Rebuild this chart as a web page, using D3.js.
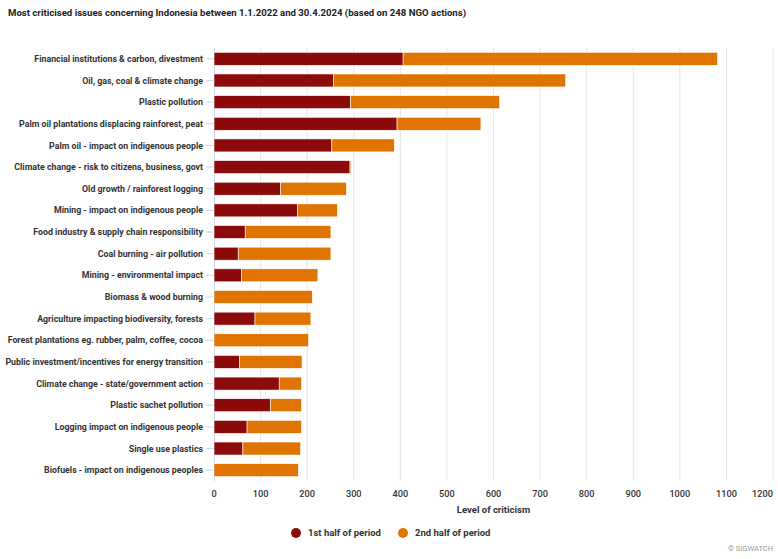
<!DOCTYPE html>
<html><head><meta charset="utf-8">
<script src="https://cdn.jsdelivr.net/npm/d3@7"></script>
<style>
body{margin:0;background:#fff;}
text{font-family:Roboto, "Noto Sans", sans-serif;}
</style></head>
<body><svg id="c" width="778" height="559"></svg>
<script>
const categories = [
 "Financial institutions & carbon, divestment",
 "Oil, gas, coal & climate change",
 "Plastic pollution",
 "Palm oil plantations displacing rainforest, peat",
 "Palm oil - impact on indigenous people",
 "Climate change - risk to citizens, business, govt",
 "Old growth / rainforest logging",
 "Mining - impact on indigenous people",
 "Food industry & supply chain responsibility",
 "Coal burning - air pollution",
 "Mining - environmental impact",
 "Biomass & wood burning",
 "Agriculture impacting biodiversity, forests",
 "Forest plantations eg. rubber, palm, coffee, cocoa",
 "Public investment/incentives for energy transition",
 "Climate change - state/government action",
 "Plastic sachet pollution",
 "Logging impact on indigenous people",
 "Single use plastics",
 "Biofuels - impact on indigenous peoples"
];
const firstHalf  = [406,257,293,393,253,292,143,179,67,52,59,0,88,0,55,140,121,71,62,0];
const secondHalf = [675,498,320,180,134,2,141,86,184,199,164,211,120,203,134,48,67,117,124,181];
const xTicks = [0,100,200,300,400,500,600,700,800,900,1000,1100,1200];
const seriesNames = ["1st half of period","2nd half of period"];
const colors = ["#8b0a0a","#e07400"];

(function(){
const svg = d3.select("#c");
const pL = 214, pR = 773, pT = 48, pB = 481;
const x = d3.scaleLinear().domain([0,1200]).range([pL,pR]);
const y = d3.scaleBand().domain(categories).range([pT,pB]).paddingInner(0.4).paddingOuter(0.2);

svg.append("text").attr("x",8).attr("y",16).attr("font-size",9.6).attr("font-weight","bold").attr("fill","#222")
  .text("Most criticised issues concerning Indonesia between 1.1.2022 and 30.4.2024 (based on 248 NGO actions)");

// grid
svg.append("g").selectAll("line").data(xTicks.slice(1)).join("line")
  .attr("x1",d=>x(d)).attr("x2",d=>x(d)).attr("y1",pT).attr("y2",pB)
  .attr("stroke","#e6e6e6").attr("stroke-width",1);

// y axis line & ticks
svg.append("line").attr("x1",pL+0.5).attr("x2",pL+0.5).attr("y1",pT).attr("y2",pB).attr("stroke","#ccd6eb");
svg.append("g").selectAll("line").data(categories).join("line")
  .attr("x1",pL-8).attr("x2",pL).attr("y1",d=>y(d)+y.bandwidth()/2).attr("y2",d=>y(d)+y.bandwidth()/2)
  .attr("stroke","#ccd6eb");
svg.append("g").selectAll("text").data(categories).join("text")
  .attr("x",pL-11).attr("y",d=>y(d)+y.bandwidth()/2).attr("dy","0.35em")
  .attr("text-anchor","end").attr("font-size",8.8).attr("font-weight","bold").attr("fill","#333")
  .text(d=>d);

// stacked bars
const rows = categories.map((c,i)=>({c, a:firstHalf[i], b:secondHalf[i]}));
const g = svg.append("g");
g.selectAll("rect.a").data(rows.filter(r=>r.a>0)).join("rect").attr("class","a")
  .attr("x",x(0)).attr("y",d=>y(d.c)).attr("height",y.bandwidth())
  .attr("width",d=>x(d.a)-x(0)).attr("fill",colors[0]).attr("stroke","#fff").attr("stroke-width",0.6);
g.selectAll("rect.b").data(rows.filter(r=>r.b>0)).join("rect").attr("class","b")
  .attr("x",d=>x(d.a)).attr("y",d=>y(d.c)).attr("height",y.bandwidth())
  .attr("width",d=>x(d.a+d.b)-x(d.a)).attr("fill",colors[1]).attr("stroke","#fff").attr("stroke-width",0.6);

// x tick labels
svg.append("g").selectAll("text").data(xTicks).join("text")
  .attr("x",d=>d===1200 ? x(d) : x(d)).attr("y",497)
  .attr("text-anchor",d=>d===1200?"end":"middle").attr("font-size",9.2).attr("font-weight","500").attr("fill","#333")
  .text(d=>d);
svg.append("text").attr("x",(pL+pR)/2).attr("y",513).attr("text-anchor","middle")
  .attr("font-size",9.5).attr("font-weight","bold").attr("fill","#333").text("Level of criticism");

// legend
const lg = svg.append("g");
const legX = [296, 403];
seriesNames.forEach((n,i)=>{
  lg.append("circle").attr("cx",legX[i]).attr("cy",533).attr("r",5).attr("fill",colors[i]);
  lg.append("text").attr("x",legX[i]+12).attr("y",533).attr("dy","0.35em").attr("font-size",9.5)
    .attr("font-weight","bold").attr("fill","#333").text(n);
});

svg.append("text").attr("x",773).attr("y",551).attr("text-anchor","end").attr("font-size",7.5).attr("fill","#999")
  .text("© SIGWATCH");
})();
</script></body></html>
